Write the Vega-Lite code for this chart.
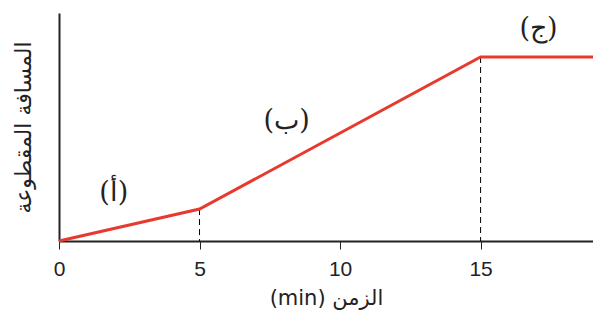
{
  "$schema": "https://vega.github.io/schema/vega-lite/v6.json",
  "width": 534,
  "height": 228,
  "autosize": {"type": "none"},
  "padding": {"left": 59, "top": 13, "right": 0, "bottom": 79},
  "background": "white",
  "config": {"view": {"stroke": null}, "font": "Liberation Sans"},
  "datasets": {
    "path": [
      {"t": 0, "d": 0},
      {"t": 5, "d": 1.4},
      {"t": 15, "d": 8.07},
      {"t": 19, "d": 8.07}
    ],
    "drops": [
      {"t": 5, "d": 1.4, "base": 0},
      {"t": 15, "d": 8.07, "base": 0}
    ],
    "labels": [
      {"t": 1.95, "d": 2.1, "txt": "(أ)"},
      {"t": 8.1, "d": 5.25, "txt": "(ب)"},
      {"t": 17.06, "d": 9.3, "txt": "(ج)"}
    ]
  },
  "layer": [
    {
      "data": {"name": "drops"},
      "mark": {"type": "rule", "color": "black", "strokeWidth": 1, "strokeDash": [6, 4]},
      "encoding": {
        "x": {"field": "t", "type": "quantitative"},
        "y": {"field": "d", "type": "quantitative"},
        "y2": {"field": "base"}
      }
    },
    {
      "data": {"name": "path"},
      "mark": {"type": "line", "color": "#e8392e", "strokeWidth": 3},
      "encoding": {
        "x": {
          "field": "t", "type": "quantitative",
          "scale": {"domain": [0, 19], "nice": false},
          "axis": {
            "values": [0, 5, 10, 15],
            "title": "(min) الزمن",
            "titleFont": "DejaVu Sans",
            "titleFontSize": 21,
            "titleFontWeight": "normal",
            "titleColor": "#222",
            "titlePadding": 8,
            "labelFontSize": 21,
            "labelColor": "#222",
            "labelPadding": 9,
            "labelFlush": false,
            "tickColor": "#222",
            "tickSize": 8,
            "domainColor": "#222",
            "domainWidth": 2,
            "grid": false
          }
        },
        "y": {
          "field": "d", "type": "quantitative",
          "scale": {"domain": [0, 10], "nice": false},
          "axis": {
            "title": "المسافة المقطوعة",
            "titleFont": "DejaVu Sans",
            "titleFontSize": 22,
            "titleFontWeight": "normal",
            "titleColor": "#222",
            "titlePadding": 24,
            "labels": false,
            "ticks": false,
            "domainColor": "#222",
            "domainWidth": 2,
            "grid": false
          }
        }
      }
    },
    {
      "data": {"name": "labels"},
      "mark": {"type": "text", "font": "DejaVu Serif", "fontSize": 27, "color": "#222"},
      "encoding": {
        "x": {"field": "t", "type": "quantitative"},
        "y": {"field": "d", "type": "quantitative"},
        "text": {"field": "txt"}
      }
    }
  ]
}
